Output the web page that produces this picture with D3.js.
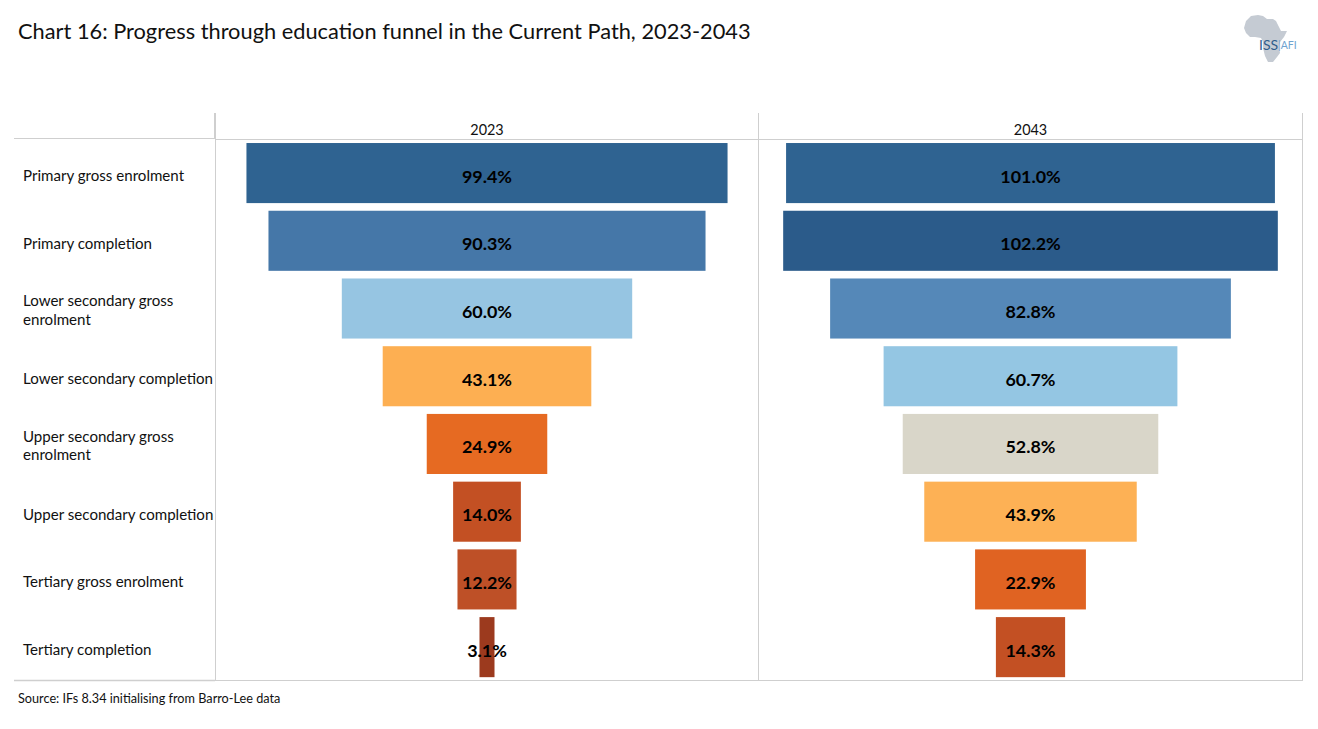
<!DOCTYPE html>
<html><head><meta charset="utf-8">
<script src="https://cdn.jsdelivr.net/npm/d3@7"></script>
<style>
html,body{margin:0;padding:0;background:#fff;overflow:hidden}
text{font-family:Lato,"Open Sans",sans-serif;fill:#111}
</style></head><body>
<svg id="c" width="1318" height="729"></svg>
<script>
const categories=["Primary gross enrolment","Primary completion","Lower secondary gross enrolment","Lower secondary completion","Upper secondary gross enrolment","Upper secondary completion","Tertiary gross enrolment","Tertiary completion"];
const years=["2023","2043"];
const values2023=[99.4,90.3,60.0,43.1,24.9,14.0,12.2,3.1];
const values2043=[101.0,102.2,82.8,60.7,52.8,43.9,22.9,14.3];
const colors2023=["#2f6391","#4577a8","#96c5e2","#fdaf52","#e66a22","#c35023","#be5027","#9c3a1e"];
const colors2043=["#2f6391","#2b5b8a","#5588b8","#94c6e3","#d9d6c9","#fdb155","#e06322","#c35023"];
const title="Chart 16: Progress through education funnel in the Current Path, 2023-2043";
const source="Source: IFs 8.34 initialising from Barro-Lee data";

const svg=d3.select("#c");
const line="#cfcfcf";
const y=d3.scaleBand().domain(categories).range([139.2,681]).paddingInner(0.113).paddingOuter(0.0565);
const panels=[
 {year:years[0],vals:values2023,cols:colors2023,x0:216,x1:758},
 {year:years[1],vals:values2043,cols:colors2043,x0:759,x1:1302}
];
const pxPerUnit=4.84;

svg.append("text").attr("x",18).attr("y",39).attr("font-size",21.8).text(title);
svg.append("text").attr("x",18).attr("y",703).attr("font-size",12.7).text(source);

// frame
const seg=(a,b,c,d,w=1)=>svg.append("line").attr("x1",a).attr("y1",b).attr("x2",c).attr("y2",d).attr("stroke",line).attr("stroke-width",w);
seg(14,138.5,216,138.5);
seg(216,139.5,1302,139.5);
seg(215,113,215,139,2);
seg(215.5,139,215.5,680);
seg(758.5,113,758.5,680.5);
seg(1302.5,113,1302.5,680.5);
seg(14,680.5,215,680.5,1.5);
seg(215,680.5,1303,680.5);

// row labels
const wrap={"Lower secondary gross enrolment":["Lower secondary gross","enrolment"],"Upper secondary gross enrolment":["Upper secondary gross","enrolment"]};
const labels=svg.append("g");
categories.forEach(c=>{
  const cy=y(c)+y.bandwidth()/2;
  const ls=wrap[c]||[c];
  ls.forEach((t,i)=>labels.append("text").attr("x",23)
    .attr("y",cy+8+(i-(ls.length-1)/2)*18.5-(ls.length>1?1:0)).attr("font-size",15.1).text(t));
});

panels.forEach(p=>{
  const mid=(p.x0+p.x1)/2;
  const half=(p.x1-p.x0)/2/pxPerUnit;
  const x=d3.scaleLinear().domain([-half,half]).range([p.x0,p.x1]);
  const g=svg.append("g");
  g.append("text").attr("x",mid).attr("y",135).attr("text-anchor","middle").attr("font-size",14.4).text(p.year);
  g.selectAll("rect").data(p.vals).join("rect")
    .attr("x",d=>x(-d/2)).attr("width",d=>x(d/2)-x(-d/2))
    .attr("y",(d,i)=>y(categories[i])).attr("height",y.bandwidth())
    .attr("fill",(d,i)=>p.cols[i]);
  g.selectAll("text.v").data(p.vals).join("text").attr("class","v")
    .attr("x",mid).attr("y",(d,i)=>y(categories[i])+y.bandwidth()/2+9.5)
    .attr("text-anchor","middle").attr("font-size",17.9).attr("font-weight",700)
    .style("fill","#000").text(d=>d.toFixed(1)+"%");
});

// logo
const logo=svg.append("g").attr("transform","translate(1244,15)");
logo.append("path").attr("fill","#c5cbd3").attr("d","M7,1 L14,0 L19,1 L23,4 L29,4 L32,6 L35,12 L37,16 L43,16 L40,22 L36,27 L35,31 L36,38 L33,42 L29,47 L24,47 L21,41 L19,33 L19,27 L17,23 L11,22 L6,22 L2,18 L0,13 L2,6 Z");
logo.append("text").attr("x",15).attr("y",35).attr("font-size",14).style("fill","#2f5d8c").text("ISS");
logo.append("text").attr("x",34).attr("y",34).attr("font-size",10.5).style("fill","#6fa3cf").text("|AFI");
</script></body></html>
